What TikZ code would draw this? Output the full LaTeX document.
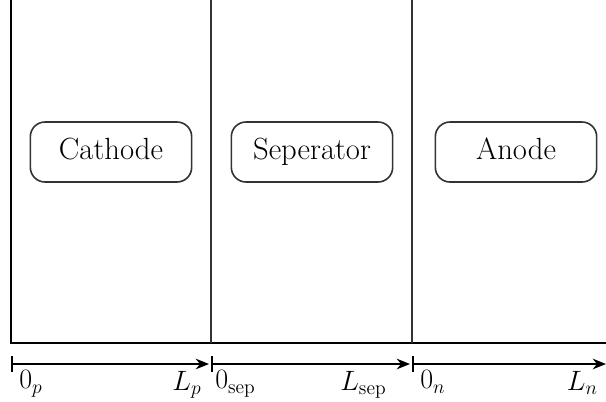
\RequirePackage{fix-cm}
\documentclass[tikz,border=0pt]{standalone}
\usetikzlibrary{arrows.meta}

\begin{document}
\begin{tikzpicture}[x=0.75pt,y=-0.75pt,
  region/.style={draw=black!80, line width=1.2pt, rounded corners=11pt,
    minimum width=121pt, minimum height=45pt, text height=16pt, text depth=4.5pt,
    font=\fontsize{23}{27}\selectfont},
  axis/.style={line width=1.2pt, {Bar[width=12pt]}-{Stealth[length=10pt,width=8pt]}},
  lbl/.style={inner sep=1pt, font=\fontsize{21}{24}\selectfont}]
\useasboundingbox (0,0) rectangle (606,401);
% domains
\draw[line width=1.8pt] (11,0) -- (11,343) -- (606,343);
\draw[line width=1.2pt, black!80] (211,0) -- (211,343);
\draw[line width=1.2pt, black!80] (412,0) -- (412,343);
\node[region] (cath) at (111,152) {Cathode};
\node[region] (sepr) at (312,152) {Seperator};
\node[region] (anod) at (516,152) {Anode};
% axes
\coordinate (p0) at (11,364);
\coordinate (p1) at (211,364);
\coordinate (s1) at (412,364);
\coordinate (n1) at (606,364);
\draw[axis] (p0) -- ([xshift=-1.5pt]p1);
\draw[axis] (p1) -- ([xshift=-1.5pt]s1);
\draw[axis] (s1) -- (n1);
\node[lbl, anchor=north west] (lp0) at ([xshift=5pt,yshift=-4pt]p0) {$0_p$};
\node[lbl, anchor=north east] (lp1) at ([xshift=-6pt,yshift=-4pt]p1) {$L_p$};
\node[lbl, anchor=north west] (ls0) at ([xshift=2pt,yshift=-4pt]p1) {$0_{\mathrm{sep}}$};
\node[lbl, anchor=north east] (ls1) at ([xshift=-18pt,yshift=-4pt]s1) {$L_{\mathrm{sep}}$};
\node[lbl, anchor=north west] (ln0) at ([xshift=5pt,yshift=-4pt]s1) {$0_n$};
\node[lbl, anchor=north east] (ln1) at ([xshift=-5pt,yshift=-4pt]n1) {$L_n$};
\end{tikzpicture}
\end{document}
